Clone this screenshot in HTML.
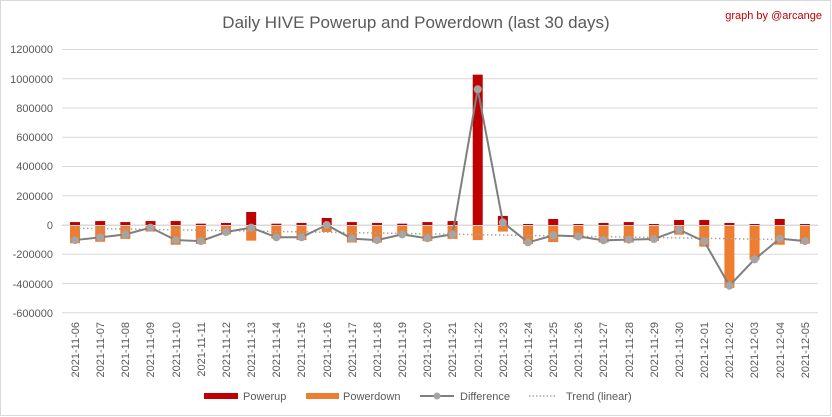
<!DOCTYPE html>
<html><head><meta charset="utf-8"><style>
html,body{margin:0;padding:0;background:#fff}
svg{display:block;font-family:"Liberation Sans",sans-serif}
</style></head><body>
<svg id="s" width="832" height="417" viewBox="0 0 832 417" xmlns="http://www.w3.org/2000/svg">
<rect x="0.5" y="0.5" width="830" height="415" fill="#fff" stroke="#d9d9d9"/>
<text x="416" y="28" text-anchor="middle" font-size="17" fill="#595959">Daily HIVE Powerup and Powerdown (last 30 days)</text>
<text x="822" y="19" text-anchor="end" font-size="11" fill="#c00000">graph by @arcange</text>
<g id="grid" stroke="#d9d9d9" stroke-width="1"></g>
<g font-size="11" fill="#595959" text-anchor="end">
<text x="53" y="53">1200000</text>
<text x="53" y="83">1000000</text>
<text x="53" y="112">800000</text>
<text x="53" y="141">600000</text>
<text x="53" y="170">400000</text>
<text x="53" y="200">200000</text>
<text x="53" y="229">0</text>
<text x="53" y="258">-200000</text>
<text x="53" y="288">-400000</text>
<text x="53" y="317">-600000</text>
</g>
<g id="bars"></g>
<g id="dates" font-size="11" fill="#595959" text-anchor="end">
<text transform="translate(79,322) rotate(-90)">2021-11-06</text>
<text transform="translate(104,322) rotate(-90)">2021-11-07</text>
<text transform="translate(129,322) rotate(-90)">2021-11-08</text>
<text transform="translate(154,322) rotate(-90)">2021-11-09</text>
<text transform="translate(180,322) rotate(-90)">2021-11-10</text>
<text transform="translate(205,322) rotate(-90)">2021-11-11</text>
<text transform="translate(230,322) rotate(-90)">2021-11-12</text>
<text transform="translate(255,322) rotate(-90)">2021-11-13</text>
<text transform="translate(280,322) rotate(-90)">2021-11-14</text>
<text transform="translate(305,322) rotate(-90)">2021-11-15</text>
<text transform="translate(331,322) rotate(-90)">2021-11-16</text>
<text transform="translate(356,322) rotate(-90)">2021-11-17</text>
<text transform="translate(381,322) rotate(-90)">2021-11-18</text>
<text transform="translate(406,322) rotate(-90)">2021-11-19</text>
<text transform="translate(431,322) rotate(-90)">2021-11-20</text>
<text transform="translate(456,322) rotate(-90)">2021-11-21</text>
<text transform="translate(482,322) rotate(-90)">2021-11-22</text>
<text transform="translate(507,322) rotate(-90)">2021-11-23</text>
<text transform="translate(532,322) rotate(-90)">2021-11-24</text>
<text transform="translate(557,322) rotate(-90)">2021-11-25</text>
<text transform="translate(582,322) rotate(-90)">2021-11-26</text>
<text transform="translate(607,322) rotate(-90)">2021-11-27</text>
<text transform="translate(633,322) rotate(-90)">2021-11-28</text>
<text transform="translate(658,322) rotate(-90)">2021-11-29</text>
<text transform="translate(683,322) rotate(-90)">2021-11-30</text>
<text transform="translate(708,322) rotate(-90)">2021-12-01</text>
<text transform="translate(733,322) rotate(-90)">2021-12-02</text>
<text transform="translate(758,322) rotate(-90)">2021-12-03</text>
<text transform="translate(784,322) rotate(-90)">2021-12-04</text>
<text transform="translate(809,322) rotate(-90)">2021-12-05</text>
</g>
<g font-size="11" fill="#595959">
<rect x="204" y="393" width="34" height="6" fill="#c00000"/>
<text x="243" y="400">Powerup</text>
<rect x="306" y="393" width="33" height="6" fill="#ed7d31"/>
<text x="343" y="400">Powerdown</text>
<line x1="420" y1="396" x2="454" y2="396" stroke="#7f7f7f" stroke-width="2"/>
<circle cx="437" cy="396" r="3.5" fill="#a5a5a5"/>
<text x="460" y="400">Difference</text>
<line x1="529" y1="396" x2="556" y2="396" stroke="#a5a5a5" stroke-width="1.5" stroke-dasharray="1.5,2"/>
<text x="566" y="400">Trend (linear)</text>
</g>
</svg>
<script>
var NS="http://www.w3.org/2000/svg";
function el(t,a,p){var e=document.createElementNS(NS,t);for(var k in a)e.setAttribute(k,a[k]);p.appendChild(e);return e;}
var g=document.getElementById('grid');
for(var i=0;i<10;i++){var y=49.5+i*29.25;el('line',{x1:62,x2:818,y1:y,y2:y},g);}
var up=[20,27,20,27,27,9,14,89,9,14,48,20,14,9,20,27,1028,62,7,41,7,14,20,7,34,34,14,7,41,7];
var dn=[-125,-115,-95,-45,-135,-130,-64,-107,-93,-103,-48,-120,-120,-68,-110,-95,-103,-45,-130,-117,-93,-120,-120,-110,-66,-148,-430,-237,-135,-128];
var df=[-103,-85,-64,-18,-103,-110,-48,-18,-84,-84,0,-93,-103,-64,-91,-64,928,18,-119,-71,-78,-105,-100,-96,-32,-112,-415,-235,-93,-110];
var b=document.getElementById('bars');
function Y(v){return 225-v*1000*29.25/200000;}
function X(i){return 75+i*25.17;}
for(var i=0;i<30;i++){
 el('rect',{x:X(i)-5,y:Y(up[i]),width:10,height:225-Y(up[i]),fill:'#c00000'},b);
 el('rect',{x:X(i)-5,y:225,width:10,height:Y(dn[i])-225,fill:'#ed7d31'},b);
}
el('line',{x1:62,x2:818,y1:225.5,y2:225.5,stroke:'#d9d9d9'},b);
el('line',{x1:X(0),x2:X(29),y1:Y(-22),y2:Y(-102),stroke:'#a5a5a5','stroke-width':1.5,'stroke-dasharray':'1.5,2.5'},b);
var pts=df.map(function(v,i){return X(i)+','+Y(v);}).join(' ');
el('polyline',{points:pts,fill:'none',stroke:'#7f7f7f','stroke-width':2},b);
for(var i=0;i<30;i++)el('circle',{cx:X(i),cy:Y(df[i]),r:4,fill:'#a5a5a5'},b);
</script>
</body></html>
